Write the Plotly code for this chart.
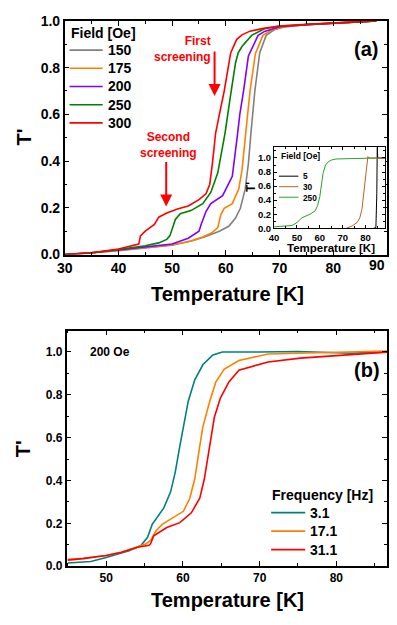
import plotly.graph_objects as go

# ---------- panel (a): T' vs temperature for several dc fields ----------
field_names = ['150', '175', '200', '250', '300']
field_colors = ['#808080', '#FF8000', '#8000FF', '#008000', '#FF0000']

t_150 = [30, 35, 40, 45, 50, 53.9, 56, 58.8, 60.6, 61.8, 62.7, 63.6, 64.2, 64.7, 65.4, 66.3, 67.5, 69, 71, 75, 80, 85, 88]
v_150 = [0.0, 0.007, 0.017, 0.028, 0.04, 0.06, 0.075, 0.10, 0.122, 0.156, 0.198, 0.28, 0.39, 0.527, 0.70, 0.863, 0.938, 0.962, 0.975, 0.984, 0.99, 0.995, 1.0]

t_175 = [30, 35, 40, 45, 50, 53, 55.7, 57.5, 58.5, 59.05, 59.7, 61.2, 62.4, 63.0, 63.5, 64.0, 64.5, 65.5, 66.9, 68.4, 70, 75, 80, 85, 88]
v_175 = [0.0, 0.007, 0.018, 0.03, 0.042, 0.055, 0.075, 0.095, 0.115, 0.17, 0.198, 0.218, 0.28, 0.36, 0.48, 0.58, 0.70, 0.86, 0.938, 0.959, 0.972, 0.984, 0.99, 0.995, 1.0]

t_200 = [30, 35, 40, 45, 50, 53, 55, 55.4, 56.3, 57.2, 59.4, 61.2, 61.7, 62.1, 62.6, 63.3, 64.2, 66.0, 67.2, 70, 75, 80, 85, 88]
v_200 = [0.0, 0.008, 0.02, 0.033, 0.045, 0.07, 0.1, 0.129, 0.184, 0.218, 0.252, 0.335, 0.42, 0.5, 0.6, 0.70, 0.85, 0.938, 0.955, 0.975, 0.984, 0.99, 0.995, 1.0]

t_250 = [30, 35, 40, 45, 47.5, 49, 49.6, 50.2, 50.6, 51.5, 53.5, 55.7, 57.2, 58.5, 59.4, 59.85, 61.0, 61.8, 62.3, 63.0, 64.8, 67.2, 70, 75, 80, 85, 88]
v_250 = [0.0, 0.007, 0.022, 0.038, 0.05, 0.065, 0.081, 0.12, 0.15, 0.175, 0.188, 0.218, 0.266, 0.35, 0.47, 0.52, 0.70, 0.82, 0.863, 0.89, 0.938, 0.966, 0.978, 0.985, 0.99, 0.995, 1.0]

t_300 = [30, 35, 40, 43.8, 44.1, 45, 46.7, 47.5, 49, 51, 53, 55, 56.3, 57, 57.5, 58.1, 58.8, 59.7, 60.9, 62, 63, 64.5, 67, 70, 75, 80, 85, 88]
v_300 = [0.0, 0.008, 0.024, 0.045, 0.08, 0.1, 0.129, 0.16, 0.178, 0.195, 0.208, 0.235, 0.26, 0.3, 0.39, 0.52, 0.6, 0.70, 0.863, 0.92, 0.94, 0.956, 0.968, 0.978, 0.985, 0.99, 0.995, 1.0]

# inset of panel (a)
inset_names = ['5', '30', '250']
inset_colors = ['#000000', '#C0602A', '#2CA02C']
t_i5 = [83.5, 84.5, 84.9, 85.1, 85.3, 88.5]
v_i5 = [0.0, 0.01, 0.5, 1.2, 1.0, 1.0]
t_i30 = [71.5, 74, 76.3, 77.5, 78.4, 79.2, 79.9, 80.5, 81.0, 81.5, 88.5]
v_i30 = [0.0, 0.03, 0.083, 0.15, 0.27, 0.5, 0.73, 0.9, 1.02, 1.0, 1.0]
t_i250 = [40, 45, 47.9, 50.1, 52.2, 55.7, 57.9, 59, 60.0, 61.4, 62.5, 63.5, 65, 67.1, 75, 80.6, 85]
v_i250 = [0.02, 0.03, 0.04, 0.083, 0.15, 0.2, 0.245, 0.32, 0.45, 0.78, 0.9, 0.94, 0.97, 0.986, 0.99, 1.0, 1.0]

# ---------- panel (b): 200 Oe, several frequencies ----------
freq_names = ['3.1', '17.1', '31.1']
freq_colors = ['#008080', '#FF8000', '#FF0000']

t_f3 = [45, 48, 50, 51.5, 53, 54.55, 55.4, 56.0, 56.7, 57.5, 58.4, 59.0, 59.6, 60.06, 60.7, 61.55, 62.6, 63.9, 65.15, 70, 75, 80, 82, 85, 87]
v_f3 = [0.015, 0.022, 0.04, 0.055, 0.072, 0.097, 0.135, 0.195, 0.233, 0.271, 0.347, 0.438, 0.56, 0.65, 0.77, 0.87, 0.94, 0.986, 1.0, 1.0, 1.002, 0.996, 0.994, 1.0, 1.0]

t_f17 = [45, 47, 50, 52, 54.1, 55.2, 55.8, 56.5, 57.3, 58.8, 60.06, 60.9, 61.55, 62.2, 62.6, 63.5, 64.3, 65.4, 67.3, 69.8, 71.1, 75, 79.6, 87]
v_f17 = [0.032, 0.037, 0.05, 0.065, 0.09, 0.105, 0.12, 0.165, 0.195, 0.226, 0.256, 0.317, 0.408, 0.56, 0.65, 0.77, 0.86, 0.92, 0.96, 0.98, 0.99, 0.994, 0.9985, 1.005]

t_f31 = [45, 47, 50, 52, 54.1, 55.6, 55.8, 56.2, 57.9, 59.6, 61.1, 62.2, 62.8, 63.5, 64.1, 64.9, 66.0, 67.3, 69.8, 71.1, 75.3, 79.6, 83.8, 87]
v_f31 = [0.028, 0.035, 0.05, 0.065, 0.088, 0.097, 0.105, 0.142, 0.18, 0.203, 0.249, 0.317, 0.408, 0.56, 0.695, 0.786, 0.86, 0.915, 0.938, 0.953, 0.971, 0.983, 0.994, 1.0]

x_ticks_a = [30, 40, 50, 60, 70, 80, 90]

# the page keeps the browser's 8px body margin, so the figure is made
# 16px smaller than the window and window pixels are shifted by 8
W, H = 397 - 16, 625 - 16
FONT = 'Liberation Sans, Arial, sans-serif'


def px(x):
    return min(max((x - 8) / W, 0), 1)


def py(y):
    return min(max(1 - (y - 8) / H, 0), 1)


fig = go.Figure()

for name, col, t, v in zip(field_names, field_colors,
                           [t_150, t_175, t_200, t_250, t_300],
                           [v_150, v_175, v_200, v_250, v_300]):
    fig.add_trace(go.Scatter(x=t, y=v, mode='lines', name=name, line=dict(color=col, width=1.6),
                             xaxis='x', yaxis='y'))

for name, col, t, v in zip(inset_names, inset_colors, [t_i5, t_i30, t_i250], [v_i5, v_i30, v_i250]):
    fig.add_trace(go.Scatter(x=t, y=v, mode='lines', name=name, line=dict(color=col, width=1),
                             xaxis='x3', yaxis='y3'))

for name, col, t, v in zip(freq_names, freq_colors, [t_f3, t_f17, t_f31], [v_f3, v_f17, v_f31]):
    fig.add_trace(go.Scatter(x=t, y=v, mode='lines', name=name, line=dict(color=col, width=1.6),
                             xaxis='x2', yaxis='y2'))


def ax_style(size, ticklen, minorlen, **kw):
    d = dict(showline=True, linecolor='black', linewidth=1.5, mirror='allticks',
             ticks='inside', ticklen=ticklen, tickwidth=1.2, tickcolor='black',
             showgrid=False, zeroline=False, ticklabeloverflow='allow',
             tickfont=dict(family=FONT, size=size, color='black', weight='bold'),
             minor=dict(ticks='inside', ticklen=minorlen, tickwidth=1, tickcolor='black', showgrid=False))
    d.update(kw)
    return d


fig.update_layout(
    width=W, height=H,
    margin=dict(l=0, r=0, t=0, b=0),
    showlegend=False,
    paper_bgcolor='white', plot_bgcolor='white',
    font=dict(family=FONT, color='black'),
    # last label (90) sits on the page edge; it is written as an annotation further down
    xaxis=ax_style(14, 5, 3, domain=[px(58), px(389)], range=[30, 90], tickvals=x_ticks_a,
                   ticktext=[str(v) for v in x_ticks_a[:-1]] + [''],
                   anchor='y', minor_dtick=5),
    yaxis=ax_style(14, 5, 3, domain=[py(253), py(13)], range=[0, 1], dtick=0.2,
                   tickformat='.1f', anchor='x', minor_dtick=0.1),
    xaxis2=ax_style(12, 5, 3, domain=[px(60), px(389)], range=[44.85, 86.6], dtick=10,
                    anchor='y2', minor_dtick=5),
    yaxis2=ax_style(12, 5, 3, domain=[py(573), py(331)], range=[0, 1.1], tick0=0, dtick=0.2,
                    tickformat='.1f', anchor='x2', minor_dtick=0.1),
    xaxis3=ax_style(9.5, 3, 2, domain=[px(273), px(387)], range=[40, 88.5], dtick=10,
                    anchor='y3', minor_dtick=5, linewidth=1),
    yaxis3=ax_style(9.5, 3, 2, domain=[py(226), py(143)], range=[0, 1.15], tick0=0, dtick=0.2,
                    tickformat='.1f', anchor='x3', minor_dtick=0.1, linewidth=1),
)

bold = dict(family=FONT, color='black', weight='bold')
red = dict(family=FONT, color='#FF0000', weight='bold', size=12)
ann = [
    dict(x=px(389), y=py(264), text=str(x_ticks_a[-1]), xanchor='right', font=dict(bold, size=14)),
    dict(x=px(225), y=py(294), text='Temperature [K]', font=dict(bold, size=20)),
    dict(x=px(225), y=py(608), text='Temperature [K]', font=dict(bold, size=20)),
    dict(x=px(16), y=py(132), text="T'", textangle=-90, font=dict(bold, size=20)),
    dict(x=px(16), y=py(452), text="T'", textangle=-90, font=dict(bold, size=20)),
    dict(x=px(331), y=py(246), text='Temperature [K]', font=dict(bold, size=11.5)),
    dict(x=px(250), y=py(184), text="T'", textangle=-90, font=dict(bold, size=12)),
    dict(x=px(367), y=py(42), text='(a)', font=dict(bold, size=20)),
    dict(x=px(368), y=py(372), text='(b)', font=dict(bold, size=20)),
    dict(x=px(82), y=py(353), text='200 Oe', xanchor='left', font=dict(bold, size=12)),
    dict(x=px(210), y=py(41.5), text='First<br>screening', xanchor='right', align='right', font=red),
    dict(x=px(165), y=py(140.5), text='Second<br>screening', align='center', font=red),
    dict(x=px(278), y=py(152), text='Field [Oe]', xanchor='left', font=dict(bold, size=8.5)),
    dict(x=px(62), y=py(25), text='Field [Oe]', xanchor='left', font=dict(bold, size=14)),
    dict(x=px(269), y=py(500), text='Frequency [Hz]', xanchor='left', font=dict(bold, size=14)),
    # inset legend labels, one block so the rows stay tight
    dict(x=px(301), y=py(183.3), text='<br>'.join(inset_names), xanchor='left', align='left',
         font=dict(bold, size=8.3)),
]
for a in ann:
    a.setdefault('xref', 'paper')
    a.setdefault('yref', 'paper')
    a.setdefault('showarrow', False)
    a.setdefault('xanchor', 'center')
    a.setdefault('yanchor', 'middle')
    fig.add_annotation(**a)

# arrows
for tip_x, tip_y in [(57.9, 0.679), (48.9, 0.206)]:
    fig.add_annotation(x=tip_x, y=tip_y, xref='x', yref='y', ax=0, ay=-46, text='', showarrow=True,
                       arrowhead=2, arrowsize=1.2, arrowwidth=2, arrowcolor='#FF0000')


# legend sample lines (+ labels) drawn by hand
def legend(names, colors, x0, x1, y0, step, size, width, labels=True):
    for i, (name, col) in enumerate(zip(names, colors)):
        yy = y0 + step * i
        fig.add_shape(type='line', xref='paper', yref='paper', x0=px(x0), x1=px(x1), y0=py(yy), y1=py(yy),
                      line=dict(color=col, width=width))
        if labels:
            fig.add_annotation(x=px(x1 + 3), y=py(yy), xref='paper', yref='paper', text=name, showarrow=False,
                               xanchor='left', yanchor='middle', font=dict(bold, size=size))


legend(field_names, field_colors, 63, 97, 43, 18.7, 14, 1.6)
legend(inset_names, inset_colors, 278, 298, 172.5, 10.8, 8.3, 1, labels=False)
legend(freq_names, freq_colors, 270, 305, 518, 19, 14, 1.6)

fig.write_html("out.html", config={'displayModeBar': False})
